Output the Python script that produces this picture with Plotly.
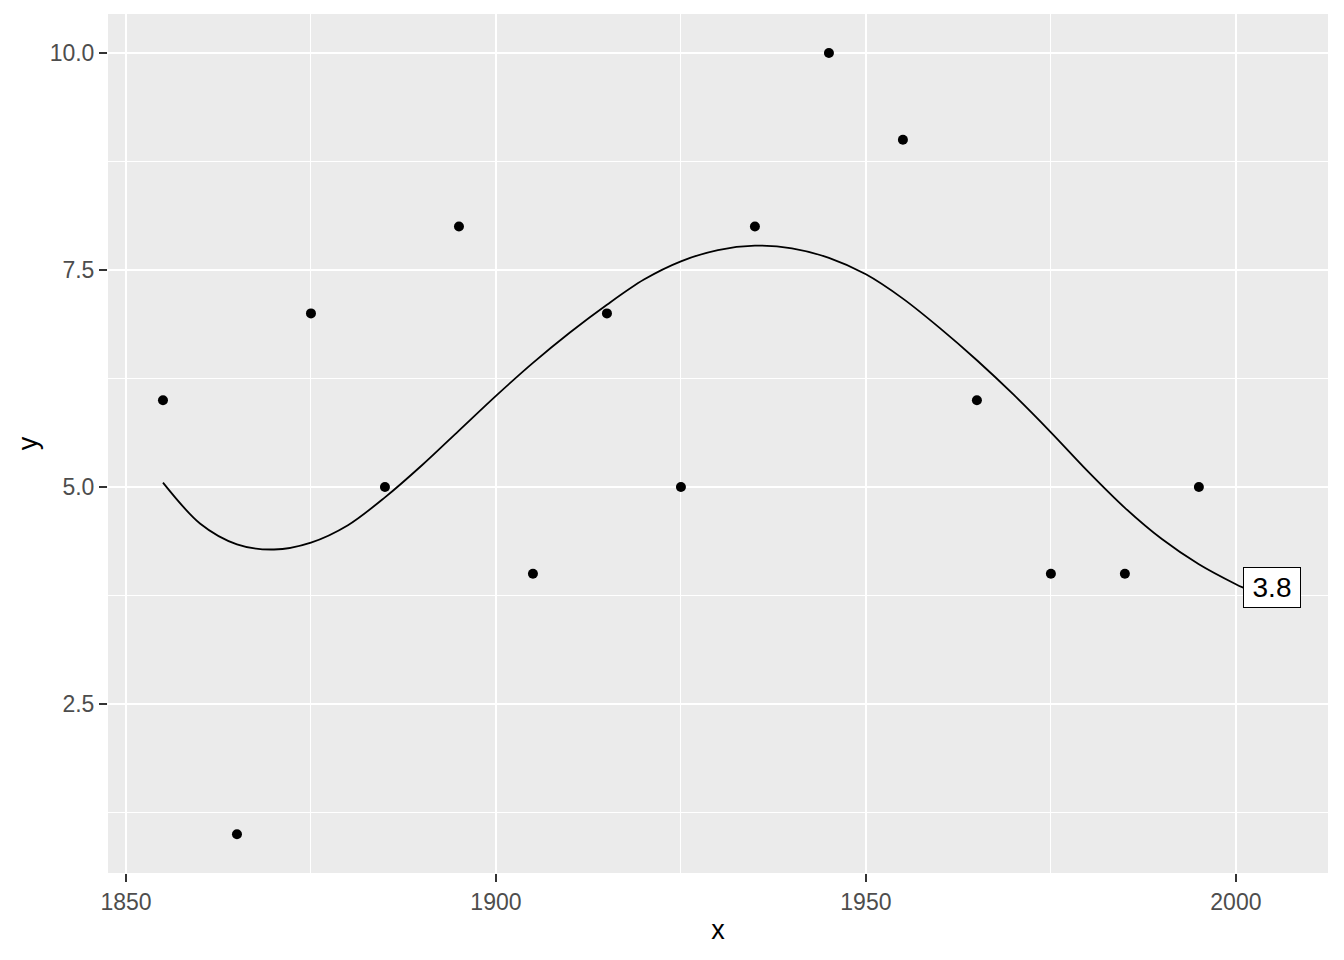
import plotly.graph_objects as go

# observed points
point_x = [1855, 1865, 1875, 1885, 1895, 1905, 1915, 1925, 1935, 1945, 1955, 1965, 1975, 1985, 1995]
point_y = [6, 1, 7, 5, 8, 4, 7, 5, 8, 10, 9, 6, 4, 4, 5]

# smooth curve values
curve_x = [1855, 1860, 1865, 1870, 1875, 1880, 1885, 1890, 1895, 1900, 1905, 1910, 1915, 1920,
           1925, 1930, 1935, 1940, 1945, 1950, 1955, 1960, 1965, 1970, 1975, 1980, 1985, 1990,
           1995, 2000, 2001]
curve_y = [5.05, 4.58, 4.34, 4.28, 4.36, 4.56, 4.88, 5.25, 5.65, 6.05, 6.43, 6.78, 7.10, 7.39,
           7.60, 7.73, 7.78, 7.75, 7.64, 7.45, 7.17, 6.83, 6.46, 6.06, 5.63, 5.18, 4.76, 4.40,
           4.11, 3.88, 3.84]

x_ticks = [1850, 1900, 1950, 2000]
x_minor = [1875, 1925, 1975]
y_ticks = [2.5, 5.0, 7.5, 10.0]
y_minor = [1.25, 3.75, 6.25, 8.75]

FONT = "Liberation Sans, Arial, sans-serif"

fig = go.Figure()
fig.add_trace(go.Scatter(x=curve_x, y=curve_y, mode="lines",
                         line=dict(color="black", width=1.8, shape="spline", smoothing=0.9),
                         hoverinfo="skip", showlegend=False))
fig.add_trace(go.Scatter(x=point_x, y=point_y, mode="markers",
                         marker=dict(color="black", size=10), showlegend=False))

fig.add_annotation(x=curve_x[-1], y=curve_y[-1], text=f"{curve_y[-1]:.1f}",
                   showarrow=False, xanchor="left", yanchor="middle",
                   font=dict(family=FONT, size=28, color="black"),
                   bgcolor="white", bordercolor="black", borderwidth=1,
                   borderpad=6, width=44, height=27)

axis_common = dict(
    showgrid=True, gridcolor="white", gridwidth=2, zeroline=False,
    ticks="outside", ticklen=8, tickwidth=2, tickcolor="#333333",
    tickfont=dict(family=FONT, size=23, color="#4D4D4D"),
    showline=False,
)

fig.update_xaxes(range=[1847.57, 2012.45], tickvals=x_ticks,
                 minor=dict(tickvals=x_minor, showgrid=True, gridcolor="white", gridwidth=1, ticklen=0),
                 title=dict(text="x", font=dict(family=FONT, size=27, color="black"), standoff=6),
                 ticklabelstandoff=0,
                 **axis_common)
fig.update_yaxes(range=[0.553, 10.449], tickvals=y_ticks, tickformat=".1f",
                 minor=dict(tickvals=y_minor, showgrid=True, gridcolor="white", gridwidth=1, ticklen=0),
                 title=dict(text="y", font=dict(family=FONT, size=27, color="black"), standoff=4),
                 ticklabelstandoff=0,
                 **axis_common)

# page body adds an 8px offset, so margins are reduced on the left/top by 8
fig.update_layout(width=1344, height=960,
                  margin=dict(l=100, r=24, t=6, b=95, autoexpand=False),
                  plot_bgcolor="#EBEBEB", paper_bgcolor="white",
                  showlegend=False)

fig.write_html("out.html")
